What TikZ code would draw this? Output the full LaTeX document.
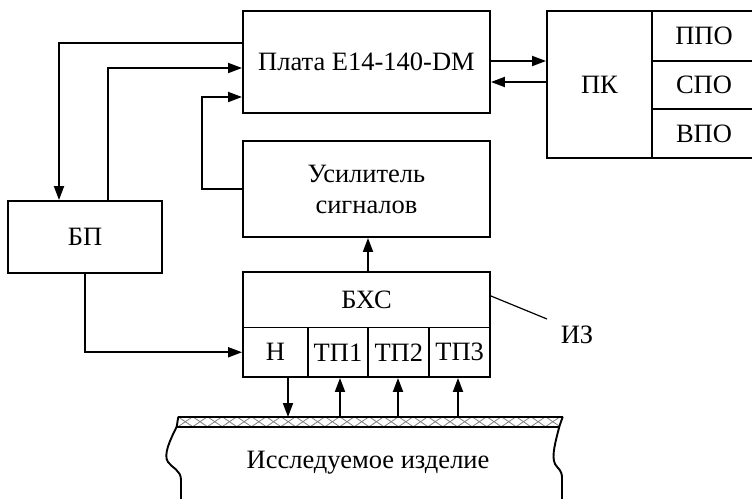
\documentclass[tikz,border=0pt]{standalone}
\usepackage{fontspec}
\setmainfont{Liberation Serif}
\usetikzlibrary{arrows.meta,calc}
\begin{document}
\begin{tikzpicture}[x=1pt,y=-1pt,
  every node/.style={font=\fontsize{26.5}{31}\selectfont},
  blk/.style={draw,line width=1.9pt,inner sep=0pt,align=center},
  arr/.style={line width=1.9pt,-{Triangle[length=14pt,width=10pt]}},
  wire/.style={line width=1.9pt}]
\useasboundingbox (0,0) rectangle (752,498);
% blocks
\node[blk,minimum width=247pt,minimum height=102pt] (plata) at (366.5,62) {Плата E14-140-DM};
\node[blk,minimum width=247pt,minimum height=96pt] (usil) at (366.5,189) {Усилитель\\сигналов};
\node[blk,minimum width=154pt,minimum height=72pt] (bp) at (85,237) {БП};
\node[blk,minimum width=105pt,minimum height=147pt] (pk) at (599.5,84.5) {ПК};
\node[blk,minimum width=104pt,minimum height=50pt] (ppo) at (704,36) {ППО};
\node[blk,minimum width=104pt,minimum height=48pt] (spo) at (704,85) {СПО};
\node[blk,minimum width=104pt,minimum height=49pt] (vpo) at (704,133.5) {ВПО};
\node[blk,minimum width=247pt,minimum height=55.5pt] (bhs) at (366.5,299.75) {БХС};
\node[blk,minimum width=64.7pt,minimum height=49.5pt] (n) at (275.35,352.25) {Н};
\node[blk,minimum width=60.6pt,minimum height=49.5pt] (tp1) at (338,352.25) {ТП1};
\node[blk,minimum width=61pt,minimum height=49.5pt] (tp2) at (398.8,352.25) {ТП2};
\node[blk,minimum width=60.7pt,minimum height=49.5pt] (tp3) at (459.65,352.25) {ТП3};
\node (iz) at (577,335) {ИЗ};
\node (obj) at (368,463) {Исследуемое изделие};
% connectors
\draw[arr] ([yshift=19pt]plata.west) -| ([xshift=-26pt]bp.north);
\draw[arr] ([xshift=23pt]bp.north) |- ([yshift=-6pt]plata.west);
\draw[arr] (usil.west) -- ++(-40,0) |- ([yshift=-35pt]plata.west);
\coordinate (p1) at ([yshift=1pt]plata.east);
\coordinate (p2) at ([yshift=-20pt]plata.east);
\draw[arr] (p1) -- (p1 -| pk.west);
\draw[arr] (p2 -| pk.west) -- (p2);
\draw[arr] ([xshift=1.5pt]bhs.north) -- ([xshift=1.5pt]usil.south);
\draw[arr] (bp.south) |- (n.west);
\coordinate (izl) at (547,319);
\draw[line width=1.2pt] ([yshift=3.75pt]bhs.east) -- (izl);
% object surface
\coordinate (f0) at (288,417);
\coordinate (f1) at (340,417);
\coordinate (f2) at (398,417);
\coordinate (f3) at (458,417);
\draw[arr] (n.south -| f0) -- (f0);
\draw[arr] (f1) -- (tp1.south -| f1);
\draw[arr] (f2) -- (tp2.south -| f2);
\draw[arr] (f3) -- (tp3.south -| f3);
\begin{scope}
\clip (178.3,416.7) -- (562.7,416.7) -- (559.3,426.7) -- (176.7,426.7) -- cycle;
\foreach \i in {0,...,27} {
  \draw[gray,line width=0.8pt] ({178+\i*14.7},416.7) -- ({178+(\i+1)*14.7},426.7);
  \draw[gray,line width=0.8pt] ({178+\i*14.7},426.7) -- ({178+(\i+1)*14.7},416.7);
}
\end{scope}
\draw[wire] (178.3,416.7) -- (562.7,416.7);
\draw[wire] (176.7,426.7) -- (559.3,426.7);
\draw[wire] (178.3,416.7) -- (176.7,426.7) .. controls (170,440) and (163,455) .. (168,462) .. controls (172,468) and (181,470) .. (181,480) -- (181,500);
\draw[wire] (562.7,416.7) -- (559.3,426.7) .. controls (556,440) and (551,456) .. (555,464) .. controls (558,469) and (562,470) .. (562,478) -- (562,500);
\end{tikzpicture}
\end{document}
